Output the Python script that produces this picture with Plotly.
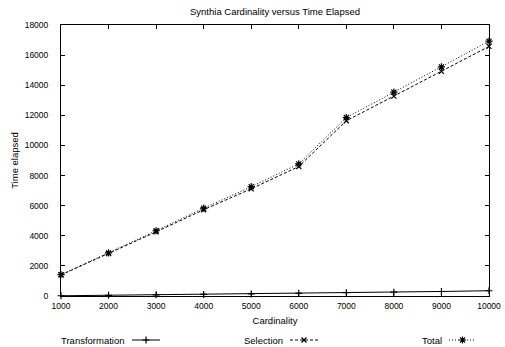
import plotly.graph_objects as go

W, H = 505, 347
cardinality = [1000, 2000, 3000, 4000, 5000, 6000, 7000, 8000, 9000, 10000]
transformation = [15, 45, 75, 105, 140, 175, 215, 255, 300, 350]
selection = [1400, 2820, 4260, 5730, 7120, 8600, 11640, 13280, 14920, 16580]
total = [t + s for t, s in zip(transformation, selection)]
series_names = ["Transformation", "Selection", "Total"]

x_ticks = cardinality
x_ticktext = [str(v) for v in x_ticks]
y_ticks = list(range(0, 18001, 2000))
y_ticktext = [str(v) for v in y_ticks]

FONT = "Liberation Sans, Arial, sans-serif"
TICK_SIZE = 8.5
TEXT_SIZE = 9.5
# plot area in pixels
L, R, T, B = 61, 489, 25, 296

styles = [
    dict(dash="solid", symbol="cross-thin-open", size=5),
    dict(dash="3px,2px", symbol="x-thin-open", size=5),
    dict(dash="1px,2px", symbol="asterisk-open", size=6),
]

fig = go.Figure()
for name, ys, st in zip(series_names, [transformation, selection, total], styles):
    fig.add_trace(go.Scatter(
        x=cardinality, y=ys, mode="lines+markers", name=name,
        line=dict(color="black", width=1, dash=st["dash"]),
        marker=dict(symbol=st["symbol"], size=st["size"], color="black",
                    line=dict(color="black", width=1.2)),
        cliponaxis=False, showlegend=False,
    ))

# legend samples on a full-figure pixel axis
leg_y = 340
leg_samples = [(132, 160), (290, 318), (449, 476)]
for name, (x0, x1), st in zip(series_names, leg_samples, styles):
    fig.add_trace(go.Scatter(
        x=[x0, x1], y=[leg_y, leg_y], mode="lines", xaxis="x2", yaxis="y2",
        line=dict(color="black", width=1, dash=st["dash"]), showlegend=False,
        hoverinfo="skip", cliponaxis=False,
    ))
    fig.add_trace(go.Scatter(
        x=[(x0 + x1) / 2], y=[leg_y], mode="markers", xaxis="x2", yaxis="y2",
        marker=dict(symbol=st["symbol"], size=st["size"], color="black",
                    line=dict(color="black", width=1.2)),
        showlegend=False, hoverinfo="skip", cliponaxis=False,
    ))
    fig.add_annotation(x=x0 - 5, y=leg_y, xref="x2", yref="y2", text=name,
                       showarrow=False, xanchor="right", yanchor="middle",
                       font=dict(family=FONT, size=TEXT_SIZE, color="black"))

axis_common = dict(
    showgrid=False, zeroline=False, showline=True, linecolor="black", linewidth=1,
    mirror="ticks", ticks="inside", ticklen=4, tickcolor="black", tickwidth=1,
    tickfont=dict(family=FONT, size=TICK_SIZE, color="black"), automargin=False,
)

fig.update_layout(
    width=W, height=H, margin=dict(l=0, r=0, t=0, b=0),
    paper_bgcolor="white", plot_bgcolor="rgba(0,0,0,0)",
    title=dict(text="Synthia Cardinality versus Time Elapsed", x=(L + R) / 2 / W,
               xanchor="center", y=1 - 12 / H, yanchor="middle",
               font=dict(family=FONT, size=TEXT_SIZE, color="black")),
    xaxis=dict(domain=[L / W, R / W], range=[1000, 10000], tickvals=x_ticks,
               ticktext=x_ticktext, ticklabelstandoff=2,
               title=dict(text="Cardinality", standoff=7,
                          font=dict(family=FONT, size=TEXT_SIZE, color="black")),
               **axis_common),
    yaxis=dict(domain=[(H - B) / H, (H - T) / H], range=[0, 18000], tickvals=y_ticks,
               ticktext=y_ticktext, ticklabelstandoff=10,
               title=dict(text="Time elapsed", standoff=4,
                          font=dict(family=FONT, size=TEXT_SIZE, color="black")),
               **axis_common),
    xaxis2=dict(domain=[0, 1], range=[0, W], visible=False, anchor="y2"),
    yaxis2=dict(domain=[0, 1], range=[H, 0], visible=False, anchor="x2"),
    showlegend=False,
)

fig.write_html("out.html")
